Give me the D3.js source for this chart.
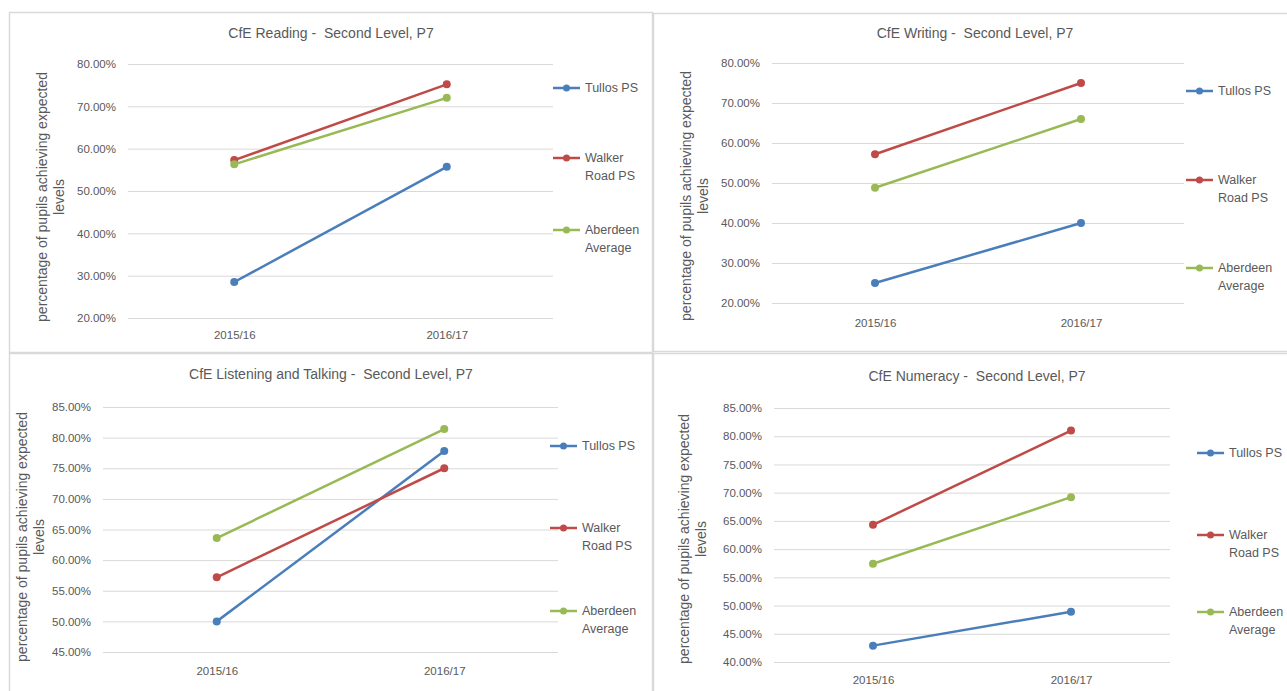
<!DOCTYPE html>
<html>
<head>
<meta charset="utf-8">
<script src="https://cdn.jsdelivr.net/npm/d3@7/dist/d3.min.js"></script>
<style>
  html, body { margin: 0; padding: 0; background: #ffffff; }
  svg { display: block; }
  text { font-family: "Liberation Sans", Arial, sans-serif; fill: #595959; white-space: pre; }
</style>
</head>
<body>
<svg id="chart" width="1287" height="691"></svg>
<script>
// ---------- data ----------
const years = ["2015/16", "2016/17"];
const seriesNames = ["Tullos PS", "Walker Road PS", "Aberdeen Average"];
const legendLines = [["Tullos PS"], ["Walker", "Road PS"], ["Aberdeen", "Average"]];
const seriesColors = ["#4a7ebb", "#be4b48", "#98b954"];
const yTitleLines = ["percentage of pupils achieving expected", "levels"];

const chartTitles = [
  "CfE Reading -  Second Level, P7",
  "CfE Writing -  Second Level, P7",
  "CfE Listening and Talking -  Second Level, P7",
  "CfE Numeracy -  Second Level, P7"
];

// y tick values (fractions) per chart
const readingTicks = [0.20, 0.30, 0.40, 0.50, 0.60, 0.70, 0.80];
const writingTicks = [0.20, 0.30, 0.40, 0.50, 0.60, 0.70, 0.80];
const listeningTicks = [0.45, 0.50, 0.55, 0.60, 0.65, 0.70, 0.75, 0.80, 0.85];
const numeracyTicks = [0.40, 0.45, 0.50, 0.55, 0.60, 0.65, 0.70, 0.75, 0.80, 0.85];

// series values [2015/16, 2016/17]
const readingTullos = [0.285, 0.557];
const readingWalker = [0.573, 0.752];
const readingAberdeen = [0.563, 0.720];

const writingTullos = [0.250, 0.400];
const writingWalker = [0.572, 0.750];
const writingAberdeen = [0.488, 0.660];

const listeningTullos = [0.500, 0.778];
const listeningWalker = [0.572, 0.750];
const listeningAberdeen = [0.636, 0.814];

const numeracyTullos = [0.429, 0.489];
const numeracyWalker = [0.643, 0.810];
const numeracyAberdeen = [0.574, 0.692];

// ---------- layout (positions only) ----------
const panels = [
  { title: chartTitles[0], ticks: readingTicks, series: [readingTullos, readingWalker, readingAberdeen],
    frame: {x: 9, y: 12, w: 643, h: 340},
    plot: {x0: 128, x1: 553, yTop: 64, yBot: 318},
    titleX: 331, titleY: 38, xLabelY: 341, yTitleX: 42, yTitleCY: 197,
    legendX: 553, legendY: [88, 158, 230] },
  { title: chartTitles[1], ticks: writingTicks, series: [writingTullos, writingWalker, writingAberdeen],
    frame: {x: 653, y: 13, w: 640, h: 338},
    plot: {x0: 772, x1: 1184, yTop: 63, yBot: 303},
    titleX: 975, titleY: 38, xLabelY: 329, yTitleX: 686, yTitleCY: 196,
    legendX: 1186, legendY: [91, 180, 268] },
  { title: chartTitles[2], ticks: listeningTicks, series: [listeningTullos, listeningWalker, listeningAberdeen],
    frame: {x: 9, y: 353, w: 643, h: 345},
    plot: {x0: 103, x1: 558, yTop: 407, yBot: 652},
    titleX: 331, titleY: 379, xLabelY: 677, yTitleX: 22, yTitleCY: 537,
    legendX: 550, legendY: [446, 528, 611] },
  { title: chartTitles[3], ticks: numeracyTicks, series: [numeracyTullos, numeracyWalker, numeracyAberdeen],
    frame: {x: 653, y: 353, w: 640, h: 345},
    plot: {x0: 774, x1: 1170, yTop: 408, yBot: 662},
    titleX: 977, titleY: 381, xLabelY: 686, yTitleX: 684, yTitleCY: 539,
    legendX: 1197, legendY: [453, 535, 612] }
];

const svg = d3.select("#chart");
const fmt = d3.format(".2%");

panels.forEach(p => {
  const g = svg.append("g");
  g.append("rect")
    .attr("x", p.frame.x + 0.5).attr("y", p.frame.y + 0.5)
    .attr("width", p.frame.w).attr("height", p.frame.h)
    .attr("fill", "#ffffff").attr("stroke", "#d9d9d9").attr("stroke-width", 1.5);

  const x = d3.scalePoint().domain(years).range([p.plot.x0, p.plot.x1]).padding(0.5);
  const y = d3.scaleLinear().domain(d3.extent(p.ticks)).range([p.plot.yBot, p.plot.yTop]);

  // gridlines + y labels
  const yAxis = d3.axisLeft(y).tickValues(p.ticks).tickFormat(fmt)
    .tickSize(-(p.plot.x1 - p.plot.x0)).tickPadding(12);
  const ya = g.append("g").attr("transform", `translate(${p.plot.x0},0)`).call(yAxis);
  ya.select(".domain").remove();
  ya.selectAll("line").attr("stroke", "#d9d9d9").attr("stroke-width", 1);
  ya.selectAll("text").attr("font-size", 11.5).attr("fill", "#595959")
    .style("font-family", '"Liberation Sans", Arial, sans-serif');

  // x labels
  const xAxis = d3.axisBottom(x).tickSize(0).tickPadding(0);
  const xa = g.append("g").attr("transform", `translate(0,${p.xLabelY - 10})`).call(xAxis);
  xa.select(".domain").remove();
  xa.selectAll("text").attr("font-size", 11.5).attr("fill", "#595959").attr("dy", "0.71em")
    .style("font-family", '"Liberation Sans", Arial, sans-serif');

  // title
  g.append("text")
    .attr("x", p.titleX).attr("y", p.titleY)
    .attr("text-anchor", "middle").attr("font-size", 14)
    .attr("xml:space", "preserve")
    .text(p.title);

  // y title (two lines, rotated)
  const yt = g.append("text")
    .attr("transform", `translate(${p.yTitleX},${p.yTitleCY}) rotate(-90)`)
    .attr("text-anchor", "middle").attr("font-size", 14);
  yTitleLines.forEach((t, i) => {
    yt.append("tspan").attr("x", 0).attr("dy", i === 0 ? "0.35em" : "1.2em").text(t);
  });

  // lines + markers
  const line = d3.line().x((d, i) => x(years[i])).y(d => y(d));
  p.series.forEach((vals, si) => {
    g.append("path").datum(vals)
      .attr("d", line).attr("fill", "none")
      .attr("stroke", seriesColors[si]).attr("stroke-width", 2.5);
    g.selectAll(null).data(vals).enter().append("circle")
      .attr("cx", (d, i) => x(years[i])).attr("cy", d => y(d))
      .attr("r", 4).attr("fill", seriesColors[si]);
  });

  // legend
  seriesNames.forEach((name, si) => {
    const ly = p.legendY[si];
    g.append("line").attr("x1", p.legendX).attr("x2", p.legendX + 27)
      .attr("y1", ly).attr("y2", ly)
      .attr("stroke", seriesColors[si]).attr("stroke-width", 2.5);
    g.append("circle").attr("cx", p.legendX + 13.5).attr("cy", ly).attr("r", 3.5)
      .attr("fill", seriesColors[si]);
    const t = g.append("text").attr("x", p.legendX + 32).attr("y", ly)
      .attr("font-size", 12.5);
    legendLines[si].forEach((ln, k) => {
      t.append("tspan").attr("x", p.legendX + 32).attr("dy", k === 0 ? "0.35em" : "1.4em").text(ln);
    });
  });
});
</script>
</body>
</html>
